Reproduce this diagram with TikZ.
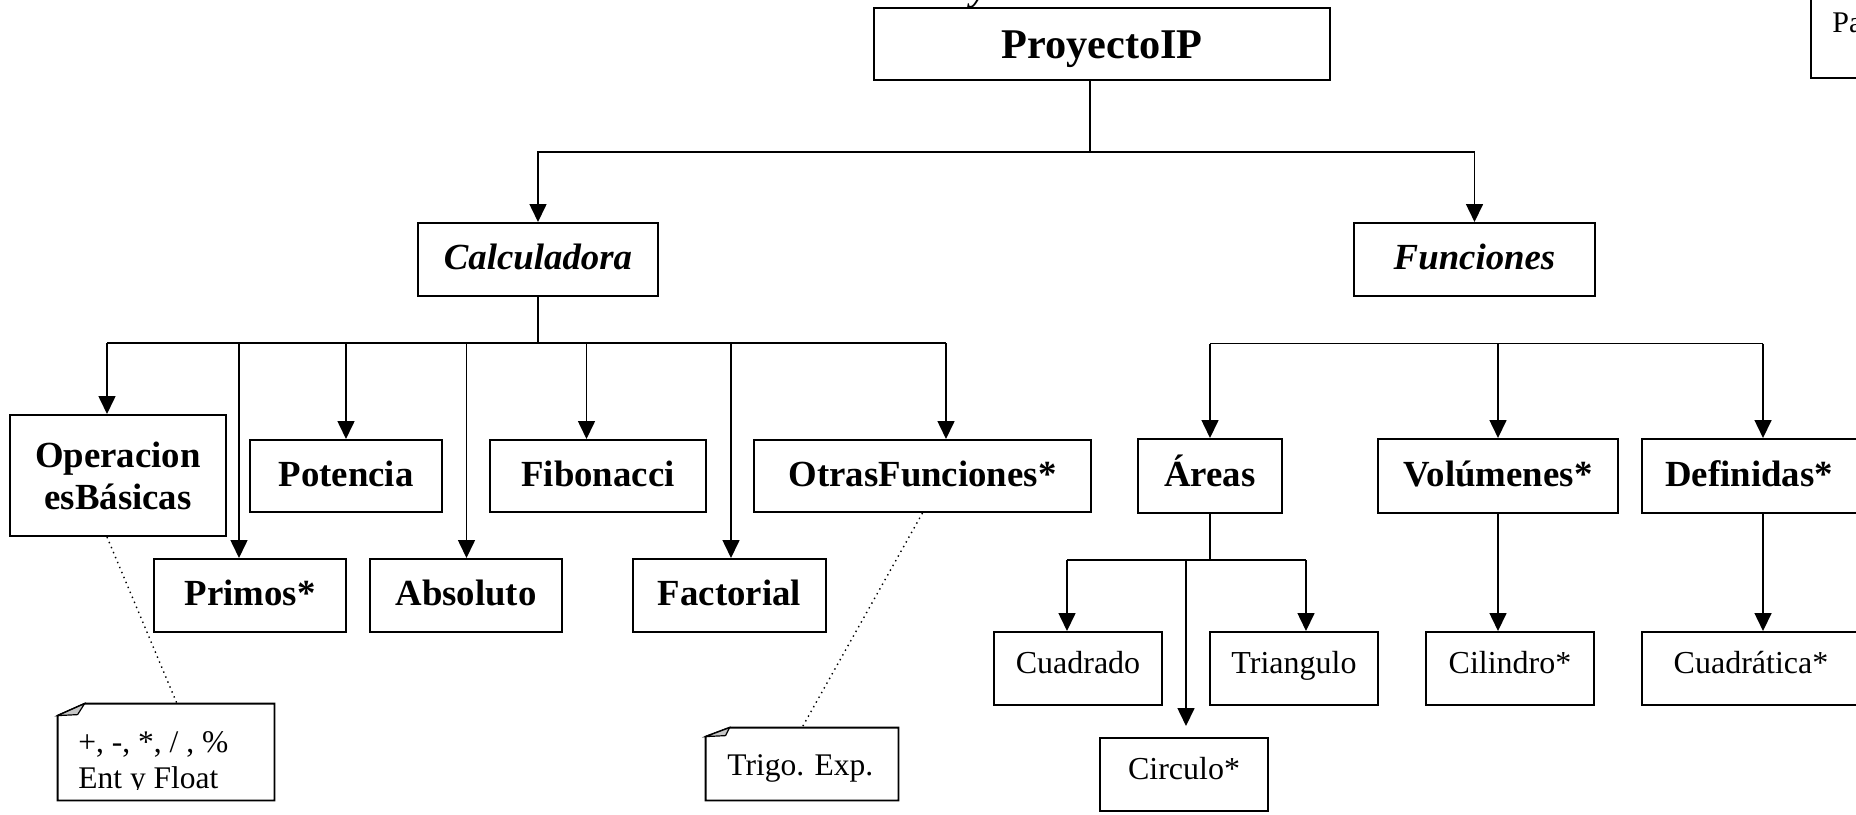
\documentclass[tikz,border=0pt]{standalone}
\usepackage{fontspec}
\setmainfont{Liberation Serif}
\usetikzlibrary{arrows.meta}
\begin{document}
\begin{tikzpicture}[x=0.5pt,y=-0.5pt,
  box/.style={draw, line width=1pt, inner sep=0pt, align=center, fill=white},
  lvlone/.style={box, font=\fontsize{21.15}{25}\selectfont\bfseries, text height=15pt, text depth=1pt},
  lvltwo/.style={box, font=\fontsize{18.4}{21}\selectfont\bfseries\itshape, text height=13pt, text depth=3pt},
  boldbox/.style={box, font=\fontsize{18.4}{21}\selectfont\bfseries, text height=13pt, text depth=3pt},
  plainbox/.style={box, font=\fontsize{16}{18}\selectfont, text height=12pt, text depth=7.5pt, minimum width=84pt, minimum height=36.5pt},
  conn/.style={line width=0.8pt},
  arr/.style={conn, -{Triangle[width=8.5pt,length=9pt]}},
  noteline/.style={line width=0.9pt, fill=white},
  fold/.style={line width=0.6pt, fill=gray!45},
  notetxt/.style={font=\fontsize{15.75}{18}\selectfont, inner sep=0pt, anchor=base west},
  dots/.style={dotted, line width=0.7pt}
]
\useasboundingbox (0,0) rectangle (1856,814);

% cut-off title above the top box and cut-off box at the top right
\node[font=\fontsize{18.4}{21}\selectfont\bfseries\itshape, anchor=base, inner sep=0pt] (title) at (979,0) {y};
\node[draw, line width=1pt, anchor=south west, minimum width=60pt, minimum height=60pt, inner sep=0pt] (pabox) at (1810,79) {};
\node[font=\fontsize{15}{18}\selectfont, anchor=base west, inner sep=0pt] (patext) at (1832,32) {Pa};

% boxes
\node[lvlone, minimum width=228pt, minimum height=36pt] (P) at (1102,44) {ProyectoIP};
\node[lvltwo, minimum width=120pt, minimum height=36.5pt] (Calc) at (538,259.5) {Calculadora};
\node[lvltwo, minimum width=120.5pt, minimum height=36.5pt] (Func) at (1474.5,259.5) {Funciones};

\node[box, font=\fontsize{18.4}{21}\selectfont\bfseries, minimum width=108pt, minimum height=60.5pt] (OpB) at (118,475.5) {Operacion\\esBásicas};
\node[boldbox, minimum width=96pt, minimum height=36pt] (Pot) at (346,476) {Potencia};
\node[boldbox, minimum width=108pt, minimum height=36pt] (Fib) at (598,476) {Fibonacci};
\node[boldbox, minimum width=168.5pt, minimum height=36pt] (Otr) at (922.5,476) {OtrasFunciones*};
\node[boldbox, minimum width=96pt, minimum height=36.5pt] (Pri) at (250,595.5) {Primos*};
\node[boldbox, minimum width=96pt, minimum height=36.5pt] (Abs) at (466,595.5) {Absoluto};
\node[boldbox, minimum width=96.5pt, minimum height=36.5pt] (Fac) at (729.5,595.5) {Factorial};

\node[boldbox, minimum width=72pt, minimum height=37pt] (Are) at (1210,476) {Áreas};
\node[boldbox, minimum width=120pt, minimum height=37pt] (Vol) at (1498,476) {Volúmenes*};
\node[boldbox, minimum width=120pt, minimum height=37pt] (Def) at (1762,476) {\hspace*{-13pt}Definidas*};

\node[plainbox] (Cua) at (1078,668.5) {Cuadrado};
\node[plainbox] (Tri) at (1294,668.5) {Triangulo};
\node[plainbox] (Cil) at (1510,668.5) {Cilindro*};
\node[plainbox, minimum width=120pt] (Qua) at (1762,668.5) {\hspace*{-11pt}Cuadrática*};
\node[plainbox] (Cir) at (1184,774.5) {Circulo*};

% ProyectoIP connectors
\coordinate (pbus) at (1090,152);
\draw[conn] (P.south -| pbus) -- (pbus);
\draw[arr] (pbus) -| (Calc.north);
\draw[arr] (pbus) -| (Func.north);

% Calculadora connectors
\coordinate (cb) at (538,343);
\coordinate (c1) at (107,343);
\coordinate (c2) at (239,343);
\coordinate (c3) at (346,343);
\coordinate (c4) at (466.5,343);
\coordinate (c5) at (586.5,343);
\coordinate (c6) at (731,343);
\coordinate (c7) at (946,343);
\draw[conn] (Calc.south) -- (cb);
\draw[conn] (c1) -- (c7);
\draw[arr] (c1) -- (c1 |- OpB.north);
\draw[arr] (c2) -- (c2 |- Pri.north);
\draw[arr] (c3) -- (c3 |- Pot.north);
\draw[arr] (c4) -- (c4 |- Abs.north);
\draw[arr] (c5) -- (c5 |- Fib.north);
\draw[arr] (c6) -- (c6 |- Fac.north);
\draw[arr] (c7) -- (c7 |- Otr.north);

% Funciones children (bus not joined to the box)
\coordinate (f1) at (1210,343.5);
\coordinate (f2) at (1498,343.5);
\coordinate (f3) at (1763,343.5);
\draw[conn] (f1) -- (f3);
\draw[arr] (f1) -- (f1 |- Are.north);
\draw[arr] (f2) -- (f2 |- Vol.north);
\draw[arr] (f3) -- (f3 |- Def.north);

% Areas connectors
\coordinate (ab) at (1210,560);
\coordinate (a1) at (1067,560);
\coordinate (a2) at (1186,560);
\coordinate (a3) at (1306,560);
\draw[conn] (Are.south) -- (ab);
\draw[conn] (a1) -- (a3);
\draw[arr] (a1) -- (a1 |- Cua.north);
\draw[arr] (a3) -- (a3 |- Tri.north);
\draw[arr, shorten >=5.5pt] (a2) -- (a2 |- Cir.north);

\draw[arr] (Vol.south) -- (Vol.south |- Cil.north);
\draw[arr] (f3 |- Def.south) -- (f3 |- Qua.north);

% notes
\node[minimum width=108pt, minimum height=48pt, inner sep=0pt] (N1) at (166,752) {};
\draw[noteline] ([xshift=13.5pt]N1.north west) -- (N1.north east) -- (N1.south east) -- (N1.south west) -- ([yshift=-6pt]N1.north west) -- cycle;
\draw[fold] ([yshift=-6pt]N1.north west) -- ([xshift=13.5pt]N1.north west) -- ([xshift=10pt,yshift=-5.5pt]N1.north west) -- cycle;
\node[notetxt] (N1a) at (78,752) {+, -, *, / , \%};
\begin{scope}
\clip (60,760) rectangle (272,789);
\node[notetxt] (N1b) at (78,788) {Ent y Float};
\end{scope}
\draw[dots] (c1 |- OpB.south) -- ([xshift=5.5pt]N1.north);

\node[minimum width=96pt, minimum height=36pt, inner sep=0pt] (N2) at (802,764) {};
\draw[noteline] ([xshift=12pt]N2.north west) -- (N2.north east) -- (N2.south east) -- (N2.south west) -- ([yshift=-4.5pt]N2.north west) -- cycle;
\draw[fold] ([yshift=-4.5pt]N2.north west) -- ([xshift=12pt]N2.north west) -- ([xshift=10pt,yshift=-4pt]N2.north west) -- cycle;
\node[notetxt] (N2a) at (727,775) {Trigo. Exp.};
\draw[dots] (Otr.south) -- (N2.north);
\end{tikzpicture}
\end{document}
